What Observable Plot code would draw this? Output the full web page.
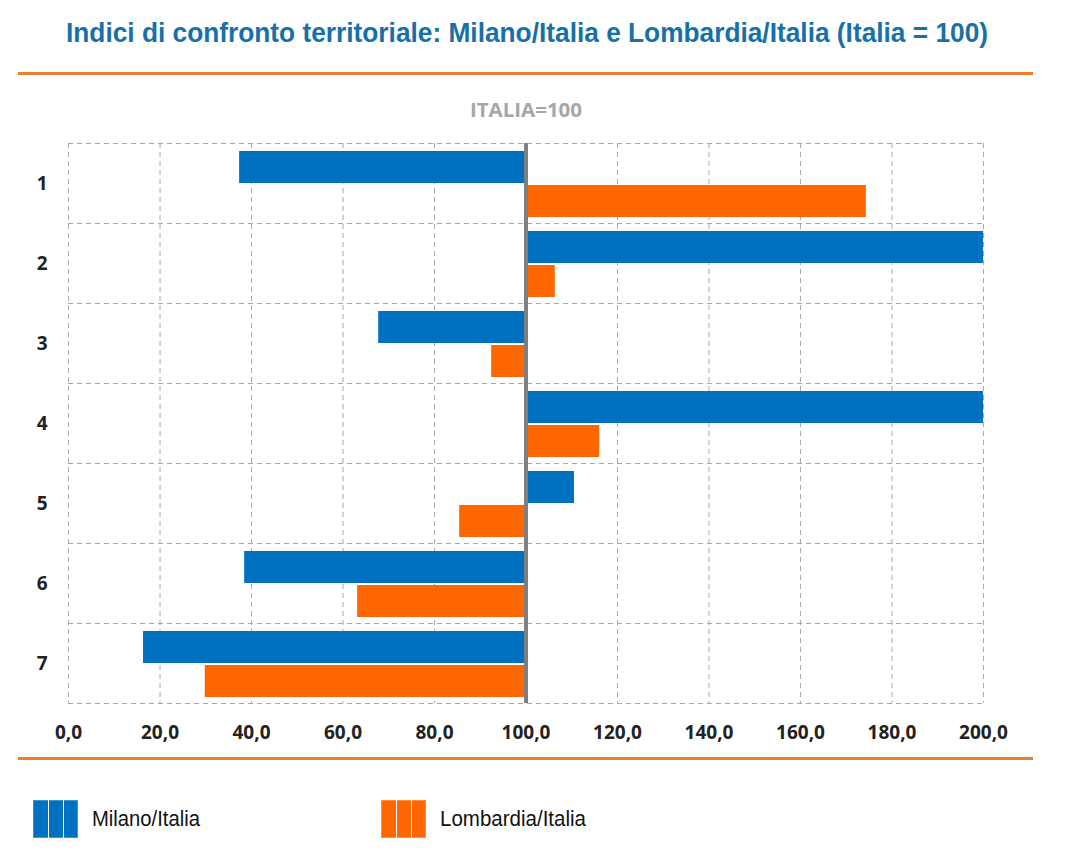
<!DOCTYPE html>
<html><head><meta charset="utf-8">
<script src="https://cdn.jsdelivr.net/npm/d3@7"></script>
<script src="https://cdn.jsdelivr.net/npm/@observablehq/plot@0.6"></script>
<style>
body{margin:0;background:#fff;width:1071px;height:850px;position:relative;overflow:hidden;font-family:"Liberation Sans",Arial,sans-serif}
.fit{position:absolute;white-space:nowrap;transform-origin:0 0;display:inline-block}
#title{top:19px;left:66px;font-weight:bold;font-size:28px;line-height:28px;color:#1770a8}
.rule{position:absolute;left:18px;width:1015px;height:3px;background:#ED7D31}
#sub{top:100px;left:470px;font-weight:bold;font-size:20px;line-height:20px;color:#a6a6a6;font-family:"Open Sans",sans-serif}
#chart{position:absolute;top:130px;left:0}
.sw{position:absolute;top:800px;width:45px;height:38px;box-sizing:border-box}
.lt{top:808px;font-size:22px;line-height:22px;color:#111}
</style></head>
<body>
<div id="title" class="fit" data-w="922">Indici di confronto territoriale: Milano/Italia e Lombardia/Italia (Italia = 100)</div>
<div class="rule" style="top:72px"></div>
<div id="sub" class="fit" data-w="112">ITALIA=100</div>
<div id="chart"></div>
<div class="rule" style="top:757px"></div>
<div id="legend"></div>
<script>
const categories = ["1","2","3","4","5","6","7"];
const series = ["Milano/Italia","Lombardia/Italia"];
const colors = ["#0070C0","#FF6600"];
const milano = [37.4, 200, 67.8, 200, 110.6, 38.5, 16.4];
const lombardia = [174.4, 106.4, 92.5, 116.1, 85.5, 63.2, 29.9];
const xTicks = [0,20,40,60,80,100,120,140,160,180,200];
const baseline = 100;

const milanoData = categories.map((c,i)=>({cat:c, series:series[0], value:milano[i]}));
const lombData = categories.map((c,i)=>({cat:c, series:series[1], value:lombardia[i]}));
const fmt = d => d.toFixed(1).replace(".", ",");

const grid = {stroke:"#a8a8a8", strokeDasharray:"5,4", strokeWidth:1};
const chart = Plot.plot({
  width:1071, height:623,
  marginLeft:68, marginRight:88, marginTop:13, marginBottom:50,
  style:{fontFamily:"'Open Sans',sans-serif", fontSize:"19px", fontWeight:"bold", color:"#222", background:"transparent", overflow:"visible"},
  x:{domain:[0,200], ticks:xTicks, tickFormat:fmt, tickSize:0, tickPadding:22, label:null},
  y:{domain:categories, padding:0, tickSize:0, tickPadding:21, label:null},
  color:{domain:series, range:colors},
  marks:[
    Plot.ruleX(xTicks.filter(t=>t!==baseline), grid),
    Plot.ruleY(categories, {y:d=>d, dy:-40, ...grid}),
    Plot.ruleY(categories.slice(-1), {y:d=>d, dy:40, ...grid}),
    Plot.barX(milanoData, {y:"cat", x1:baseline, x2:"value", fill:"series", insetTop:8, insetBottom:40}),
    Plot.barX(lombData, {y:"cat", x1:baseline, x2:"value", fill:"series", insetTop:42, insetBottom:6}),
    Plot.ruleX([baseline], {stroke:"#7f7f7f", strokeWidth:4})
  ]
});
document.getElementById("chart").appendChild(chart);

// legend
const legendX = [{sw:33, tx:92, w:108}, {sw:381, tx:440, w:146}];
const leg = document.getElementById("legend");
series.forEach((s,i)=>{
  const sw = document.createElement("div");
  sw.className = "sw";
  sw.style.left = legendX[i].sw + "px";
  const c = colors[i], l = "rgba(255,255,255,0.2)";
  sw.style.background = `linear-gradient(90deg, ${c} 0 14px, ${l} 14px 15px, ${c} 15px 29px, ${l} 29px 30px, ${c} 30px 100%)`;
  sw.style.border = "1px solid rgba(255,255,255,0.25)";
  leg.appendChild(sw);
  const t = document.createElement("div");
  t.className = "fit lt";
  t.style.left = legendX[i].tx + "px";
  t.dataset.w = legendX[i].w;
  t.textContent = s;
  leg.appendChild(t);
});

// condensed text: fit measured width to target
document.querySelectorAll(".fit").forEach(el=>{
  const w = el.getBoundingClientRect().width;
  const target = +el.dataset.w;
  if (w > 0 && target) el.style.transform = `scaleX(${target / w})`;
});
</script>
</body></html>
